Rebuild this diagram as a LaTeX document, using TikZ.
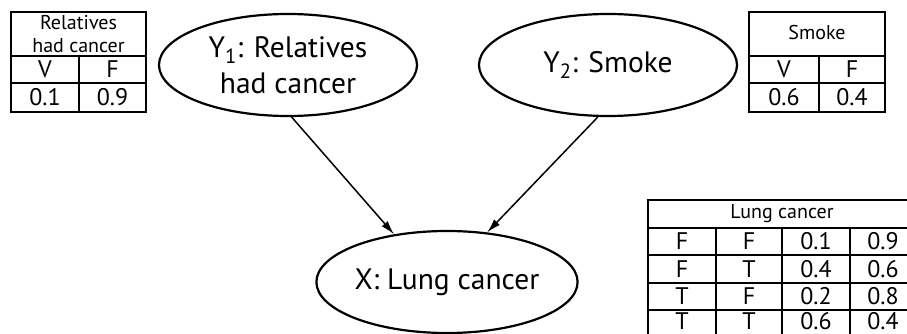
\documentclass[tikz,border=0pt]{standalone}
\usepackage{fontspec}
\setmainfont{PT Sans}
\usetikzlibrary{shapes.geometric,arrows.meta}

\begin{document}
\begin{tikzpicture}[x=1pt,y=-1pt,
  var/.style={draw,line width=2.2pt,ellipse,minimum width=258pt,minimum height=102pt,
    inner sep=0pt,align=center,font=\fontsize{29.5}{36}\selectfont},
  cell/.style={inner sep=0pt,font=\fontsize{24}{28}\selectfont},
  head/.style={inner sep=0pt,align=center,font=\fontsize{20}{23}\selectfont},
  tab/.style={line width=1.8pt},
  link/.style={line width=1.5pt,-{Latex[length=14pt,width=8pt]}}]
  \useasboundingbox (0,0) rectangle (907,334);
  \clip (0,0) rectangle (907,334);

  \node[var] (y1) at (288,65) {Y\textsubscript{1}: Relatives\\had cancer};
  \node[var] (y2) at (608,65) {Y\textsubscript{2}: Smoke};
  \node[var] (x) at (447,282) {X: Lung cancer};

  \draw[link] (y1.274) -- (x.138);
  \draw[link] (y2.259) -- (x.51);

  \draw[tab] (11,12) rectangle (146,112);
  \draw[tab] (11,56) -- (146,56) (11,83) -- (146,83) (79,56) -- (79,112);
  \node[head] (rh) at (78.5,34) {Relatives\\had cancer};
  \node[cell] (rv) at (45,69.5) {V};
  \node[cell] (rf) at (112.5,69.5) {F};
  \node[cell] (rp) at (45,97.5) {0.1};
  \node[cell] (rq) at (112.5,97.5) {0.9};

  \draw[tab] (749,12) rectangle (885,112);
  \draw[tab] (749,56) -- (885,56) (749,83) -- (885,83) (819,56) -- (819,112);
  \node[head] (sh) at (817,33) {Smoke};
  \node[cell] (sv) at (784,69.5) {V};
  \node[cell] (sf) at (852,69.5) {F};
  \node[cell] (sp) at (784,97.5) {0.6};
  \node[cell] (sq) at (852,97.5) {0.4};

  \draw[tab] (648,200) rectangle (917,338);
  \draw[tab] (648,228) -- (917,228) (648,255) -- (917,255) (648,283) -- (917,283)
    (648,310) -- (917,310);
  \draw[tab] (716,228) -- (716,338) (782,228) -- (782,338) (850,228) -- (850,338);
  \node[head] (lh) at (782,214) {Lung cancer};
  \foreach \r/\y/\a/\b/\p/\q in {1/241.5/F/F/0.1/0.9, 2/269/F/T/0.4/0.6,
      3/296.5/T/F/0.2/0.8, 4/321.5/T/T/0.6/0.4} {
    \node[cell] (la\r) at (682,\y) {\a};
    \node[cell] (lb\r) at (749,\y) {\b};
    \node[cell] (lp\r) at (816,\y) {\p};
    \node[cell] (lq\r) at (883,\y) {\q};
  }
\end{tikzpicture}
\end{document}
